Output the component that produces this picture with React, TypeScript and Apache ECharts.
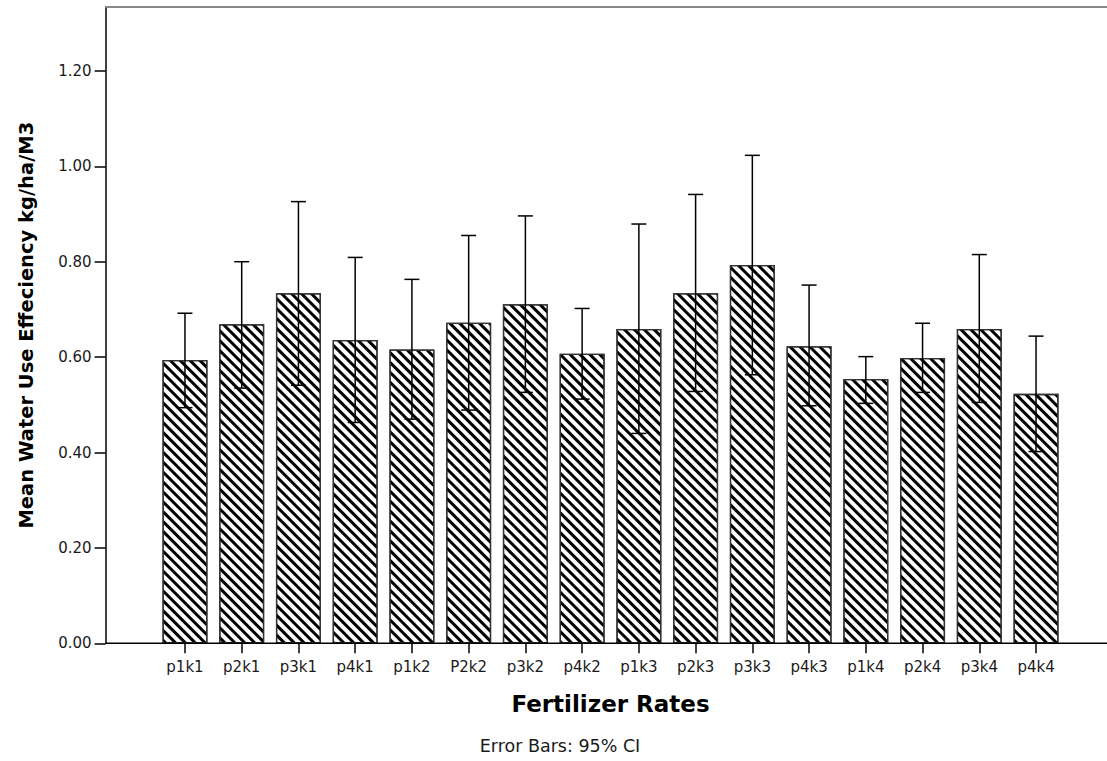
import React, { useEffect, useRef } from "react";
import * as echarts from "echarts";

const categories = ["p1k1", "p2k1", "p3k1", "p4k1", "p1k2", "P2k2", "p3k2", "p4k2", "p1k3", "p2k3", "p3k3", "p4k3", "p1k4", "p2k4", "p3k4", "p4k4"];
const means = [0.594, 0.669, 0.734, 0.636, 0.616, 0.672, 0.711, 0.607, 0.659, 0.734, 0.793, 0.623, 0.554, 0.598, 0.659, 0.523];
const ciLow = [0.494, 0.535, 0.541, 0.463, 0.470, 0.489, 0.526, 0.512, 0.440, 0.528, 0.563, 0.498, 0.503, 0.526, 0.505, 0.402];
const ciHigh = [0.692, 0.800, 0.926, 0.809, 0.763, 0.855, 0.896, 0.702, 0.879, 0.941, 1.023, 0.751, 0.601, 0.671, 0.815, 0.644];
const yTicks = [0, 0.2, 0.4, 0.6, 0.8, 1.0, 1.2];
const yMax = 1.334;

export default function App() {
  const ref = useRef<HTMLDivElement>(null);
  useEffect(() => {
    if (!ref.current) return;
    const chart = echarts.init(ref.current, null, { renderer: "svg" });
    const errData = categories.map((_, i) => [i, ciLow[i], ciHigh[i]]);
    const labelFont = "DejaVu Sans";
    const option: any = {
      animation: false,
      backgroundColor: "#fff",
      grid: { left: 156.6, right: 42.6, top: 7, bottom: 117.7, containLabel: false },
      xAxis: {
        type: "category",
        data: categories,
        axisLine: { show: false },
        axisTick: { show: true, alignWithLabel: true, length: 10, lineStyle: { color: "#000", width: 1.5 } },
        axisLabel: { margin: 16, fontFamily: labelFont, fontSize: 15, color: "#1a1a1a" },
        name: "Fertilizer Rates",
        nameLocation: "middle",
        nameGap: 49,
        nameTextStyle: { fontFamily: labelFont, fontWeight: "bold", fontSize: 23, color: "#000" },
      },
      yAxis: {
        type: "value",
        min: 0,
        max: yMax,
        offset: 51,
        splitLine: { show: false },
        axisLine: { show: true, lineStyle: { color: "#000", width: 1.5 } },
        axisTick: { show: true, length: 11, customValues: yTicks, lineStyle: { color: "#000", width: 1.5 } },
        axisLabel: {
          customValues: yTicks,
          margin: 14,
          fontFamily: labelFont,
          fontSize: 15,
          color: "#1a1a1a",
          formatter: (v: number) => v.toFixed(2),
        },
        name: "Mean Water Use Effeciency kg/ha/M3",
        nameLocation: "middle",
        nameRotate: 90,
        nameGap: 69,
        nameTextStyle: { fontFamily: labelFont, fontWeight: "bold", fontSize: 19.5, color: "#000" },
      },
      series: [
        {
          type: "bar",
          data: means,
          barWidth: 45,
          itemStyle: {
            color: "#fff",
            borderColor: "#333",
            borderWidth: 1.3,
            decal: {
              symbol: "rect",
              symbolSize: 1,
              dashArrayX: [1, 0],
              dashArrayY: [3, 3.6],
              rotation: Math.PI / 4,
              color: "#000",
              backgroundColor: "#fff",
            },
          },
          z: 2,
        },
        {
          type: "custom",
          data: errData,
          z: 5,
          renderItem: (params: any, api: any) => {
            const i = api.value(0);
            const lo = api.coord([i, api.value(1)]);
            const hi = api.coord([i, api.value(2)]);
            const hw = 7.5;
            const style = { stroke: "#000", lineWidth: 1.5 };
            return {
              type: "group",
              children: [
                { type: "line", shape: { x1: hi[0], y1: hi[1], x2: lo[0], y2: lo[1] }, style },
                { type: "line", shape: { x1: hi[0] - hw, y1: hi[1], x2: hi[0] + hw, y2: hi[1] }, style },
                { type: "line", shape: { x1: lo[0] - hw, y1: lo[1], x2: lo[0] + hw, y2: lo[1] }, style },
              ],
            };
          },
        },
      ],
      graphic: [
        { type: "line", z: 100, shape: { x1: 105.5, y1: 643.3, x2: 1107, y2: 643.3 }, style: { stroke: "#000", lineWidth: 1.5 } },
        { type: "line", z: 100, shape: { x1: 105.5, y1: 7, x2: 1107, y2: 7 }, style: { stroke: "#888", lineWidth: 2 } },
        {
          type: "text",
          x: 560,
          y: 746,
          style: {
            text: "Error Bars: 95% CI",
            fontFamily: labelFont,
            fontSize: 17.5,
            fill: "#1a1a1a",
            textAlign: "center",
            textVerticalAlign: "middle",
          },
        },
      ],
    };
    chart.setOption(option);
    return () => chart.dispose();
  }, []);
  return <div ref={ref} style={{ position: "fixed", left: 0, top: 0, width: 1107, height: 761 }} />;
}
